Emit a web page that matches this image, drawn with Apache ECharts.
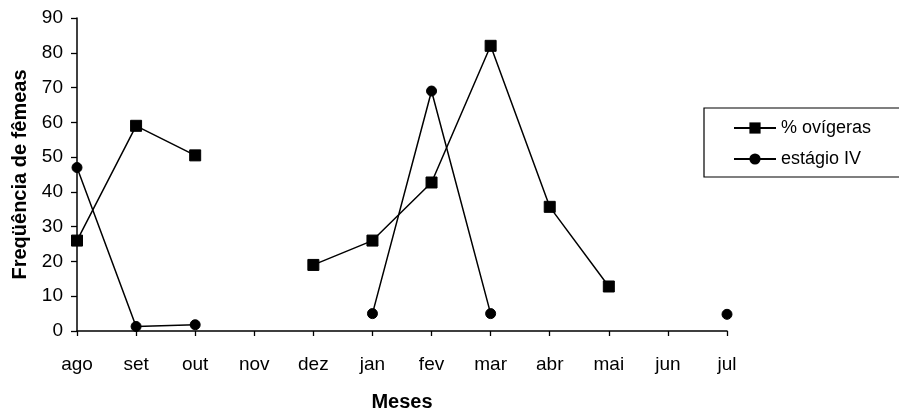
<!DOCTYPE html>
<html>
<head>
<meta charset="utf-8">
<script src="https://cdn.jsdelivr.net/npm/echarts@6/dist/echarts.min.js"></script>
<style>html,body{margin:0;padding:0;background:#fff;}#c{width:899px;height:409px;}</style>
</head>
<body>
<div id="c"></div>
<script>
const months = ['ago','set','out','nov','dez','jan','fev','mar','abr','mai','jun','jul'];
const ovigeras = [26, 59, 50.5, null, 19, 26, 42.7, 82, 35.7, 12.8, null, null];
const estagioIV = [47, 1.3, 1.8, null, null, 5, 69, 5, null, null, null, 4.8];
const yTicks = { min: 0, max: 90, interval: 10 };

const font = '"Liberation Sans", Arial, sans-serif';
const chart = echarts.init(document.getElementById('c'), null, { renderer: 'canvas' });
chart.setOption({
  backgroundColor: '#fff',
  animation: false,
  grid: { left: 77, right: 172, top: 18, bottom: 78, containLabel: false, outerBoundsMode: 'none' },
  legend: {
    orient: 'vertical',
    left: 704,
    top: 108,
    padding: [11, 30, 9, 29],
    itemGap: 13,
    itemWidth: 42,
    itemHeight: 14,
    borderColor: '#000',
    borderWidth: 1.2,
    textStyle: { fontFamily: font, fontSize: 18, color: '#000' },
    data: ['% ovígeras', 'estágio IV']
  },
  xAxis: {
    type: 'category',
    data: months,
    boundaryGap: false,
    name: 'Meses',
    nameLocation: 'middle',
    nameGap: 61,
    nameTextStyle: { fontFamily: font, fontSize: 20, fontWeight: 'bold', color: '#000' },
    axisLine: { lineStyle: { color: '#000', width: 1.5 } },
    axisTick: { show: true, length: 5, lineStyle: { color: '#000', width: 1.3 } },
    axisLabel: { fontFamily: font, fontSize: 19, color: '#000', margin: 24 },
    splitLine: { show: false }
  },
  yAxis: {
    type: 'value',
    min: yTicks.min,
    max: yTicks.max,
    interval: yTicks.interval,
    name: 'Freqüência de fêmeas',
    nameLocation: 'middle',
    nameGap: 45,
    nameTextStyle: { fontFamily: font, fontSize: 20, fontWeight: 'bold', color: '#000' },
    axisLine: { show: true, lineStyle: { color: '#000', width: 1.5 } },
    axisTick: { show: true, length: 6, lineStyle: { color: '#000', width: 1.3 } },
    axisLabel: { fontFamily: font, fontSize: 19, color: '#000', margin: 14 },
    splitLine: { show: false }
  },
  series: [
    {
      name: '% ovígeras',
      type: 'line',
      data: ovigeras,
      connectNulls: false,
      symbol: 'rect',
      symbolSize: 11,
      showAllSymbol: true,
      lineStyle: { color: '#000', width: 1.5 },
      itemStyle: { color: '#000', borderColor: '#000' }
    },
    {
      name: 'estágio IV',
      type: 'line',
      data: estagioIV,
      connectNulls: false,
      symbol: 'circle',
      symbolSize: 10,
      showAllSymbol: true,
      lineStyle: { color: '#000', width: 1.5 },
      itemStyle: { color: '#000', borderColor: '#000' }
    }
  ]
});
</script>
</body>
</html>
